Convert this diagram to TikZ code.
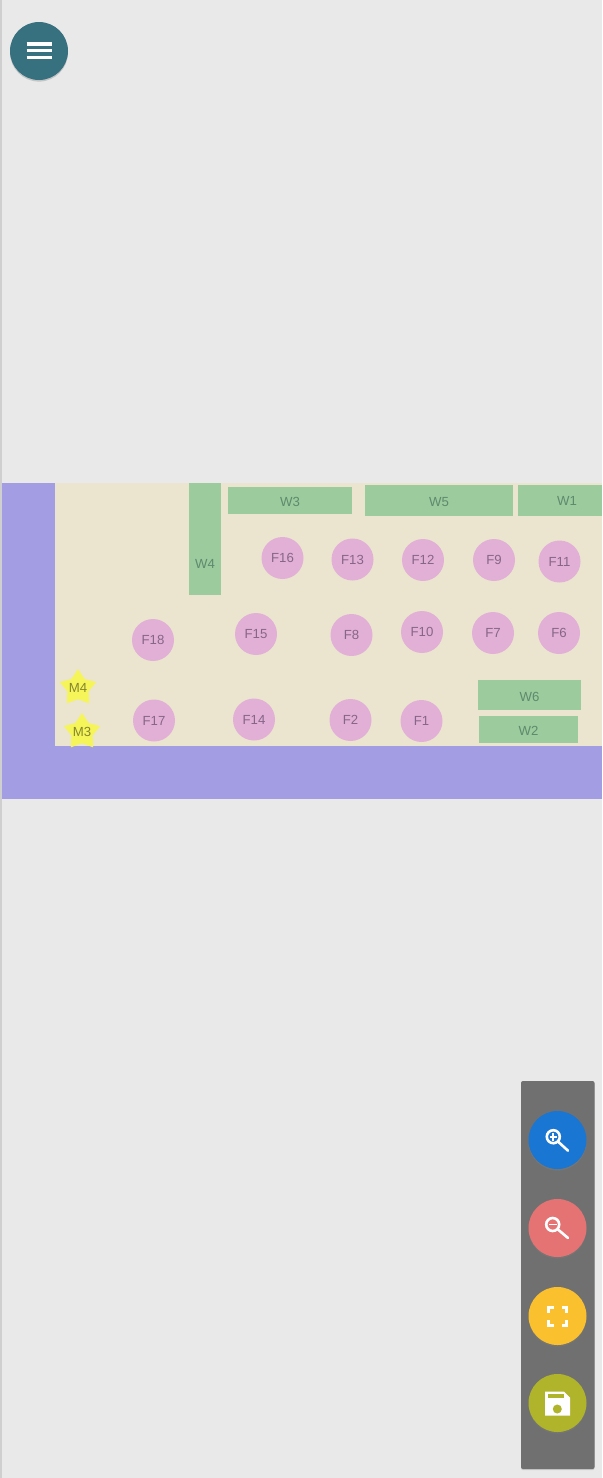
\documentclass[tikz,border=0pt]{standalone}
\usepackage{fontspec}
\setmainfont{Liberation Sans}
\usetikzlibrary{shapes.geometric,shadows}
\definecolor{pagegray}{HTML}{E9E9E9}
\definecolor{edgegray}{HTML}{CFCFCF}
\definecolor{roadblue}{HTML}{A39DE3}
\definecolor{floorcream}{HTML}{EBE5CF}
\definecolor{wallgreen}{HTML}{9CCB9E}
\definecolor{wallink}{HTML}{5F8A6C}
\definecolor{fanpink}{HTML}{E2B0D6}
\definecolor{fanink}{HTML}{866688}
\definecolor{staryellow}{HTML}{F5F55A}
\definecolor{starink}{HTML}{85852F}
\definecolor{panelgray}{HTML}{707070}
\definecolor{menuteal}{HTML}{37717F}
\definecolor{zoomblue}{HTML}{1976D2}
\definecolor{zoomred}{HTML}{E57373}
\definecolor{fitamber}{HTML}{FBC02D}
\definecolor{saveolive}{HTML}{AFB42B}
\tikzset{
  fan/.style={circle,fill=fanpink,text=fanink,minimum size=21pt,inner sep=0pt,font=\fontsize{6.6}{8}\selectfont},
  wallbox/.style={fill=wallgreen,text=wallink,inner sep=0pt,text height=6.2pt,font=\fontsize{6.6}{8}\selectfont},
  mark star/.style={star,star points=5,star point ratio=1.7,fill=staryellow,minimum size=19pt,inner sep=0pt},
  roundbtn/.style={circle,minimum size=29pt,inner sep=0pt,drop shadow={shadow xshift=0pt,shadow yshift=-0.8pt,opacity=0.35}},
  iconline/.style={draw=white,line width=1.3pt}
}
\begin{document}
\begin{tikzpicture}[x=0.5pt,y=-0.5pt]
  \useasboundingbox (0,0) rectangle (602,1478);
  \fill[pagegray] (0,0) rectangle (602,1478);
  \fill[edgegray] (0,0) rectangle (2,1478);

  % Floor
  \fill[roadblue] (2,483) rectangle (602,798.5);
  \fill[floorcream] (54.5,483) rectangle (602,746);

  % Walls
  \foreach \name/\x/\y/\w/\h in {W3/290/500/62/13.5, W5/439/500.25/74/15.25, W6/529.5/695/51.5/15, W2/528.5/729.5/49.5/13.5}
    \node[wallbox,minimum width=\w pt,minimum height=\h pt] (\name) at (\x,\y) {\name};
  \node[wallbox,minimum width=16.25pt,minimum height=56pt] (W4) at (204.75,539) {};
  \node[text=wallink,inner sep=0pt,font=\fontsize{6.6}{8}\selectfont] (W4text) at (205,564) {W4};
  \node[wallbox,minimum width=42pt,minimum height=15.5pt] (W1) at (560,500.5) {};
  \node[text=wallink,inner sep=0pt,font=\fontsize{6.6}{8}\selectfont] (W1text) at (567,501) {W1};

  % Fans
  \foreach \name/\x/\y in {F16/282.5/558, F13/352.5/559.5, F12/423/560, F9/494/560, F11/559.5/561.5,
      F18/153/640, F15/256/634, F8/351.5/635, F10/422/632, F7/493/633, F6/559/633,
      F17/154/720.5, F14/254/719.5, F2/350.5/720, F1/421.5/721}
    \node[fan] (\name) at (\x,\y) {\name};

  % Stars
  \foreach \name/\x/\y in {M4/78/688, M3/82/732} {
    \node[mark star] (\name) at (\x,\y) {};
    \node[text=starink,inner sep=0pt,font=\fontsize{6.6}{8}\selectfont] (\name text) at (\x,\y) {\name};
  }

  % Menu
  \node[roundbtn,fill=menuteal] (menu) at (39,51) {};
  \foreach \y in {44,50.7,57.7}
    \draw[white,line width=1.6pt] (26.7,\y) -- (52.3,\y);

  % Panel
  \fill[panelgray,rounded corners=1pt,drop shadow={shadow xshift=0pt,shadow yshift=-0.6pt,opacity=0.25}] (521,1081) rectangle (594.5,1469);
  \node[roundbtn,fill=zoomblue] (zoomin) at (557.5,1140) {};
  \node[roundbtn,fill=zoomred] (zoomout) at (557.5,1228) {};
  \node[roundbtn,fill=fitamber] (fit) at (557.5,1316) {};
  \node[roundbtn,fill=saveolive] (save) at (557.5,1403) {};

  % Zoom in
  \draw[iconline] (553.3,1136.7) circle (6.5);
  \draw[iconline,line cap=round] (558.5,1142) -- (568,1150.7);
  \draw[white,line width=0.9pt] (549.5,1136.7) -- (557,1136.7) (553.3,1133) -- (553.3,1140.5);

  % Zoom out
  \draw[iconline] (552.7,1224.5) circle (6.5);
  \draw[iconline,line cap=round] (558,1229.5) -- (568,1238);
  \draw[white,line width=0.9pt] (549,1224.5) -- (556.5,1224.5);

  % Fit
  \foreach \x/\y/\dx/\dy in {548.5/1307.5/1/1, 566.5/1307.5/-1/1, 548.5/1325/1/-1, 566.5/1325/-1/-1}
    \draw[white,line width=1.5pt] (\x,\y+5*\dy) -- (\x,\y) -- (\x+5*\dx,\y);

  % Save
  \fill[white] (545,1391.7) -- (564,1391.7) -- (570,1397.7) -- (570,1415.7) -- (545,1415.7) -- cycle;
  \fill[saveolive] (547.7,1394.3) rectangle (564.3,1398.3);
  \fill[saveolive] (557.3,1409) circle (4.5);
\end{tikzpicture}
\end{document}
